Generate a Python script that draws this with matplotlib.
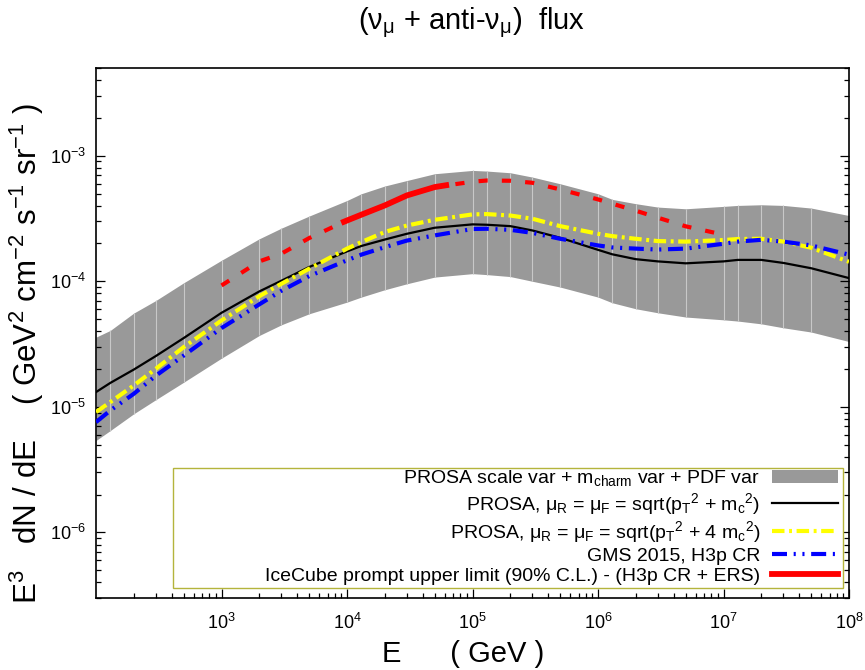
import numpy as np
import matplotlib
matplotlib.use('Agg')
import matplotlib.pyplot as plt
from matplotlib.patches import Rectangle, Patch
from matplotlib.lines import Line2D
from matplotlib.ticker import LogLocator, NullFormatter

plt.rcParams['font.family'] = ['Liberation Sans', 'DejaVu Sans']
plt.rcParams['mathtext.fontset'] = 'custom'
plt.rcParams['mathtext.rm'] = 'Liberation Sans'
plt.rcParams['mathtext.it'] = 'Liberation Sans:italic'
plt.rcParams['mathtext.bf'] = 'Liberation Sans:bold'
plt.rcParams['mathtext.default'] = 'regular'

# ==========================================
# data (E in GeV, flux in GeV^2 cm^-2 s^-1 sr^-1)
# ==========================================
E = [1e2, 1.3e2, 2e2, 3e2, 5e2,
     1e3, 2e3, 3e3, 5e3,
     1e4, 1.3e4, 2e4, 3e4, 5e4,
     1e5, 1.3e5, 2e5, 3e5, 5e5,
     1e6, 1.3e6, 2e6, 3e6, 5e6,
     1e7, 1.3e7, 2e7, 3e7, 5e7, 1e8]

band_hi = [3.59e-5, 4.06e-5, 5.58e-5, 7.03e-5, 9.73e-5,
           1.47e-4, 2.18e-4, 2.65e-4, 3.31e-4,
           4.40e-4, 4.98e-4, 5.74e-4, 6.35e-4, 7.19e-4,
           7.64e-4, 7.55e-4, 7.32e-4, 6.76e-4, 5.98e-4,
           4.98e-4, 4.49e-4, 4.15e-4, 3.90e-4, 3.78e-4,
           3.95e-4, 4.02e-4, 4.07e-4, 4.02e-4, 3.83e-4, 3.34e-4]

band_lo = [5.39e-6, 6.47e-6, 8.80e-6, 1.14e-5, 1.57e-5,
           2.44e-5, 3.70e-5, 4.50e-5, 5.51e-5,
           6.82e-5, 7.48e-5, 8.56e-5, 9.55e-5, 1.08e-4,
           1.15e-4, 1.13e-4, 1.09e-4, 1.00e-4, 8.99e-5,
           7.48e-5, 6.74e-5, 6.04e-5, 5.61e-5, 5.19e-5,
           4.93e-5, 4.82e-5, 4.58e-5, 4.26e-5, 3.94e-5, 3.31e-5]

prosa_central = [1.31e-5, 1.55e-5, 1.98e-5, 2.54e-5, 3.53e-5,
                 5.61e-5, 8.30e-5, 1.01e-4, 1.30e-4,
                 1.73e-4, 1.91e-4, 2.15e-4, 2.39e-4, 2.67e-4,
                 2.84e-4, 2.82e-4, 2.75e-4, 2.54e-4, 2.22e-4,
                 1.78e-4, 1.64e-4, 1.50e-4, 1.44e-4, 1.39e-4,
                 1.44e-4, 1.48e-4, 1.48e-4, 1.40e-4, 1.27e-4, 1.06e-4]

prosa_4mc = [9.08e-6, 1.09e-5, 1.48e-5, 2.01e-5, 2.99e-5,
             4.87e-5, 7.60e-5, 9.55e-5, 1.26e-4,
             1.82e-4, 2.05e-4, 2.47e-4, 2.78e-4, 3.09e-4,
             3.41e-4, 3.43e-4, 3.34e-4, 3.15e-4, 2.75e-4,
             2.39e-4, 2.29e-4, 2.18e-4, 2.09e-4, 2.07e-4,
             2.13e-4, 2.17e-4, 2.18e-4, 2.07e-4, 1.85e-4, 1.43e-4]

gms2015 = [7.55e-6, 9.35e-6, 1.27e-5, 1.77e-5, 2.56e-5,
           4.24e-5, 6.55e-5, 8.40e-5, 1.10e-4,
           1.47e-4, 1.63e-4, 1.87e-4, 2.11e-4, 2.32e-4,
           2.61e-4, 2.62e-4, 2.57e-4, 2.43e-4, 2.18e-4,
           1.93e-4, 1.86e-4, 1.82e-4, 1.79e-4, 1.82e-4,
           1.99e-4, 2.07e-4, 2.14e-4, 2.07e-4, 1.93e-4, 1.63e-4]

# IceCube limit: full curve (dashed) and sensitive range (solid)
E_ic = E[5:25]
icecube_limit = [9.26e-5, 1.44e-4, 1.66e-4, 2.21e-4,
                 3.05e-4, 3.39e-4, 4.02e-4, 4.83e-4, 5.63e-4,
                 6.21e-4, 6.35e-4, 6.32e-4, 6.09e-4, 5.39e-4,
                 4.49e-4, 4.15e-4, 3.65e-4, 3.21e-4, 2.74e-4, 2.35e-4]
E_ic_solid = [9e3, 1e4, 1.3e4, 2e4, 3e4, 5e4, 6.5e4]
icecube_solid = [2.92e-4, 3.05e-4, 3.39e-4, 4.02e-4, 4.83e-4, 5.63e-4, 5.87e-4]

labels = [
    'PROSA scale var + m$_{charm}$ var + PDF var',
    'PROSA, μ$_R$ = μ$_F$ = sqrt(p$_T$$^2$ + m$_c$$^2$)',
    'PROSA, μ$_R$ = μ$_F$ = sqrt(p$_T$$^2$ + 4 m$_c$$^2$)',
    'GMS 2015, H3p CR',
    'IceCube prompt upper limit (90% C.L.) - (H3p CR + ERS)',
]

# ==========================================
# plot
# ==========================================
fig = plt.figure(figsize=(8.65, 6.7), dpi=100)
ax = fig.add_axes([0.111, 0.1075, 0.8705, 0.791])

band_color = '#999999'
ax.fill_between(E, band_lo, band_hi, color=band_color, lw=0, zorder=1)
ax.vlines(E[1:-1], band_lo[1:-1], band_hi[1:-1], colors='#c8c8c8', lw=0.8, zorder=1.5)

yellow_ds = (0, (3.0, 1.1, 0.7, 1.1))
blue_ds = (0, (3.6, 1.6, 0.5, 1.6, 0.5, 1.6))
red_ds = (0, (2.2, 3.4))

ax.plot(E, prosa_central, color='black', lw=1.6, zorder=3)
ax.plot(E, prosa_4mc, color='#ffff00', lw=3, linestyle=yellow_ds, zorder=4)
ax.plot(E, gms2015, color='#0000ff', lw=3, linestyle=blue_ds, zorder=5)
ax.plot(E_ic, icecube_limit, color='#ff0000', lw=3, linestyle=red_ds, zorder=6)
ax.plot(E_ic_solid, icecube_solid, color='#ff0000', lw=4.2, zorder=7,
        solid_capstyle='butt')

ax.set_xscale('log')
ax.set_yscale('log')
ax.xaxis.set_minor_locator(LogLocator(base=10, subs=np.arange(2, 10), numticks=20))
ax.xaxis.set_minor_formatter(NullFormatter())
ax.yaxis.set_minor_formatter(NullFormatter())
ax.set_xticks([1e3, 1e4, 1e5, 1e6, 1e7, 1e8])
ax.set_yticks([1e-6, 1e-5, 1e-4, 1e-3])
ax.set_xlim(1e2, 1e8)
ax.set_ylim(3.0e-7, 5.0e-3)

ax.tick_params(which='both', direction='in', top=False, right=True, width=0.9,
               labelsize=13)
ax.tick_params(which='major', length=6.5)
ax.tick_params(which='minor', length=3.3)
ax.tick_params(axis='x', pad=11)
ax.tick_params(axis='y', pad=7)
for sp in ax.spines.values():
    sp.set_linewidth(1.2)

ax.set_xlabel('E      ( GeV )', fontsize=21)
ax.xaxis.set_label_coords(0.487, -0.105)
ax.xaxis.label.set_va('center')
ax.set_ylabel('E$^3$   dN / dE    ( GeV$^2$ cm$^{-2}$ s$^{-1}$ sr$^{-1}$ )',
              fontsize=22.5)
ax.yaxis.set_label_coords(-0.066, 0.462)
fig.text(0.545, 0.966, '(ν$_{μ}$ + anti-ν$_{μ}$)  flux', fontsize=21,
         ha='center', va='center')

# legend frame like gnuplot's key box
ax.add_patch(Rectangle((0.102, 0.019), 0.890, 0.226, transform=ax.transAxes,
                       facecolor='white', edgecolor='#b4b43c', lw=1.0, zorder=8))

handles = [
    Patch(facecolor=band_color, edgecolor='none'),
    Line2D([], [], color='black', lw=1.6),
    Line2D([], [], color='#ffff00', lw=3, linestyle=yellow_ds),
    Line2D([], [], color='#0000ff', lw=3, linestyle=blue_ds),
    Line2D([], [], color='#ff0000', lw=4.2),
]
leg = ax.legend(handles, labels, loc='upper right', bbox_to_anchor=(0.988, 0.248),
                frameon=False, markerfirst=False, fontsize=14,
                handlelength=3.4, handletextpad=0.6, labelspacing=0.12,
                borderpad=0.1, borderaxespad=0)
leg.set_zorder(9)

plt.savefig('out.png', dpi=100)
